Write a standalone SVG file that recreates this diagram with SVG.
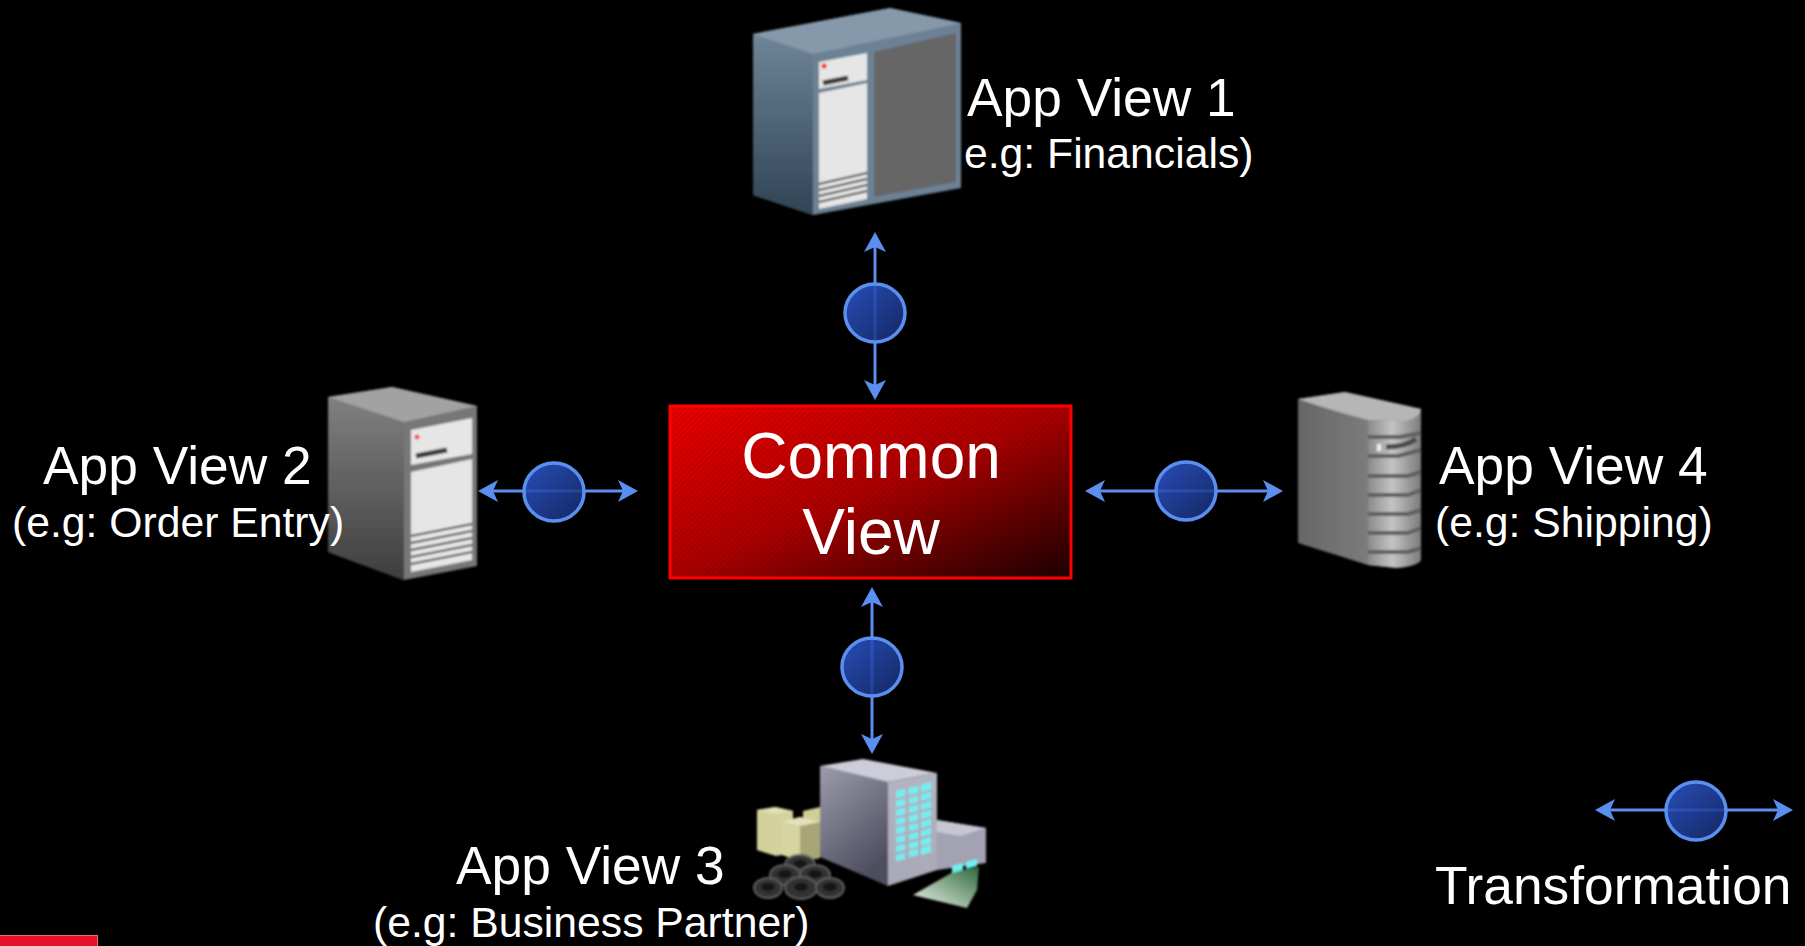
<svg xmlns="http://www.w3.org/2000/svg" width="1805" height="946" viewBox="0 0 1805 946">
<style>
text{font-family:"Liberation Sans",Arial,sans-serif;fill:#fff}
.big{font-size:53.3px}.sm{font-size:42.7px}.ctr{font-size:64px;text-anchor:middle}
.conn{stroke:#5a8ff0;stroke-width:3;fill:none;marker-start:url(#ah);marker-end:url(#ah)}
.hub{fill:url(#hubg);fill-opacity:.88;stroke:#5a8ff0;stroke-width:3.5}
.panel{fill:#e6e6e6}.vent{stroke:#444;stroke-width:2.2;fill:none}
.slot{stroke:#3a3a3a;stroke-width:5;fill:none}
.win{fill:#6ff0f2}
.tire{fill:#333;stroke:#5c5c5c;stroke-width:2}
.tireh{fill:#151515}
</style>
<defs>
<marker id="ah" markerUnits="userSpaceOnUse" markerWidth="24" markerHeight="26" refX="13" refY="13" orient="auto-start-reverse" viewBox="0 0 24 26">
<path d="M1,2 L21,13 L1,24 L6,13Z" fill="#5a8ff0"/>
</marker>
<linearGradient id="hubg" x1="0" y1="0" x2="1" y2="1"><stop offset="0" stop-color="#2c58d0"/><stop offset="1" stop-color="#182c70"/></linearGradient>
<linearGradient id="redg" x1="0" y1="0" x2="1" y2="1"><stop offset="0" stop-color="#ee0000"/><stop offset=".5" stop-color="#ac0000"/><stop offset="1" stop-color="#1c0000"/></linearGradient>
<pattern id="hatch" width="4" height="4" patternUnits="userSpaceOnUse" patternTransform="rotate(45)"><rect width="2" height="4" fill="#000" fill-opacity=".09"/></pattern>
<linearGradient id="s1side" x1="0" y1="0" x2="0" y2="1"><stop offset="0" stop-color="#6f8598"/><stop offset="1" stop-color="#2f4455"/></linearGradient>
<linearGradient id="s2side" x1="0" y1="0" x2="0" y2="1"><stop offset="0" stop-color="#808080"/><stop offset="1" stop-color="#3e3e3e"/></linearGradient>
<linearGradient id="s4side" x1="0" y1="0" x2="1" y2="0"><stop offset="0" stop-color="#666"/><stop offset="1" stop-color="#8c8c8c"/></linearGradient>
<linearGradient id="s4front" x1="0" y1="0" x2="1" y2="0"><stop offset="0" stop-color="#8a8a8a"/><stop offset=".45" stop-color="#c4c4c4"/><stop offset="1" stop-color="#7c7c7c"/></linearGradient>
<linearGradient id="bside" x1="0" y1="0" x2="0.5" y2="1"><stop offset="0" stop-color="#9c9cac"/><stop offset="1" stop-color="#4e4e60"/></linearGradient>
<linearGradient id="bfront" x1="0" y1="0" x2="0" y2="1"><stop offset="0" stop-color="#b4b4c2"/><stop offset="1" stop-color="#a8a8b6"/></linearGradient>
<linearGradient id="paper" x1="1" y1="0" x2="0" y2="1"><stop offset="0" stop-color="#2f6a3c"/><stop offset="1" stop-color="#eef4ea"/></linearGradient>
<filter id="soft" x="-5%" y="-5%" width="110%" height="110%"><feGaussianBlur stdDeviation=".8"/></filter>
</defs>
<rect width="1805" height="946" fill="#000"/>

<g id="connectors">
<line class="conn" x1="875" y1="240" x2="875" y2="392"/>
<line class="conn" x1="872" y1="595" x2="872" y2="746"/>
<line class="conn" x1="486" y1="491" x2="630" y2="491"/>
<line class="conn" x1="1093" y1="491" x2="1275" y2="491"/>
<line class="conn" x1="1603" y1="810" x2="1785" y2="810"/>
</g>

<g id="hub-top"><ellipse class="hub" cx="875" cy="313" rx="30" ry="29"/></g>
<g id="hub-bottom"><ellipse class="hub" cx="872" cy="667" rx="30" ry="29"/></g>
<g id="hub-left"><ellipse class="hub" cx="554" cy="492" rx="30" ry="29"/></g>
<g id="hub-right"><ellipse class="hub" cx="1186" cy="491" rx="30" ry="29"/></g>
<g id="hub-legend"><ellipse class="hub" cx="1696" cy="811" rx="30" ry="29"/></g>

<g id="common-view">
<rect x="670" y="406" width="401" height="172" fill="url(#redg)" stroke="#f00" stroke-width="3"/>
<rect x="672" y="408" width="397" height="168" fill="url(#hatch)"/>
<text class="ctr" x="871" y="478">Common</text>
<text class="ctr" x="871" y="554">View</text>
</g>

<g id="app-view-1">
<g filter="url(#soft)">
<path d="M753,34 L890,8 L961,23 L961,188 L813,215 L753,195Z" fill="#6c8294"/>
<path d="M753,34 L813,54 L813,215 L753,195Z" fill="url(#s1side)"/>
<path d="M753,34 L890,8 L961,23 L813,54Z" fill="#8599ab"/>
<path d="M819,62 L867,53 L867,80 L819,89Z" class="panel"/>
<path d="M819,93 L867,83 L867,199 L819,209Z" class="panel"/>
<path d="M874,52 L956,33 L956,182 L874,197Z" fill="#666"/>
<circle cx="824" cy="66" r="2.5" fill="#f01818"/>
<path d="M823,83 L848,78" class="slot"/>
<path d="M819,184 L867,173 M819,190 L867,179 M819,196 L867,185 M819,202 L867,191" class="vent"/>
</g>
<text class="big" x="967" y="116">App View 1</text>
<text class="sm" x="964" y="168">e.g: Financials)</text>
</g>

<g id="app-view-2">
<g filter="url(#soft)">
<path d="M328,397 L392,387 L477,406 L477,566 L404,580 L328,552Z" fill="#777"/>
<path d="M328,397 L404,422 L404,580 L328,552Z" fill="url(#s2side)"/>
<path d="M328,397 L392,387 L477,406 L404,422Z" fill="#a2a2a2"/>
<path d="M411,430 L472,418 L472,454 L411,465Z" class="panel"/>
<path d="M411,472 L472,459 L472,560 L411,572Z" class="panel"/>
<circle cx="417" cy="437" r="2.5" fill="#f05050"/>
<path d="M416,456 L447,450" class="slot"/>
<path d="M411,536 L472,524 M411,543 L472,531 M411,550 L472,538 M411,557 L472,545 M411,564 L472,552" class="vent"/>
</g>
<text class="big" x="43" y="484">App View 2</text>
<text class="sm" x="12" y="537">(e.g: Order Entry)</text>
</g>

<g id="app-view-3">
<g filter="url(#soft)">
<path d="M803,811 L820,807 L820,858 L803,858Z" fill="#cfcd98"/>
<path d="M757,810 L775,807 L793,811 L793,853 L776,856 L757,850Z" fill="#d4d29c"/>
<path d="M757,810 L775,807 L793,811 L776,814Z" fill="#e2e0b4"/>
<path d="M782,822 L800,817 L820,822 L820,858 L799,861 L782,855Z" fill="#d6d4a0"/>
<path d="M782,822 L800,817 L820,822 L800,826Z" fill="#e4e2b8"/>
<path d="M800,826 L820,822 L820,858 L800,861Z" fill="#a8a676"/>
<g>
<ellipse class="tire" cx="800" cy="865" rx="15" ry="10"/><ellipse class="tireh" cx="800" cy="864" rx="7" ry="4"/>
<ellipse class="tire" cx="785" cy="875" rx="15" ry="10"/><ellipse class="tireh" cx="785" cy="874" rx="7" ry="4"/>
<ellipse class="tire" cx="815" cy="875" rx="15" ry="10"/><ellipse class="tireh" cx="815" cy="874" rx="7" ry="4"/>
<ellipse class="tire" cx="768" cy="888" rx="14" ry="10"/><ellipse class="tireh" cx="768" cy="887" rx="7" ry="4"/>
<ellipse class="tire" cx="801" cy="888" rx="16" ry="11"/><ellipse class="tireh" cx="801" cy="887" rx="7" ry="4"/>
<ellipse class="tire" cx="830" cy="888" rx="14" ry="10"/><ellipse class="tireh" cx="830" cy="887" rx="7" ry="4"/>
</g>
<path d="M913,895 L953,872 L979,867 L977,890 L967,908Z" fill="url(#paper)"/>
<path d="M937,820 L986,828 L986,863 L937,870Z" fill="#a2a2b2"/>
<path d="M937,820 L986,828 L960,836 L937,832Z" fill="#c6c6d4"/>
<path d="M952,866 L963,863 L963,870 L952,873Z M966,862 L977,859 L977,866 L966,869Z" class="win"/>
<path d="M820,766 L888,782 L888,886 L820,857Z" fill="url(#bside)"/>
<path d="M820,766 L863,759 L937,773 L888,782Z" fill="#cdcdda"/>
<path d="M888,782 L937,773 L937,870 L888,886Z" fill="url(#bfront)"/>
<g class="win">
<path d="M896,791 L905,789 L905,796 L896,798Z M909,788 L918,786 L918,793 L909,795Z M921,785 L931,782 L931,789 L921,792Z"/>
<path d="M896,801 L905,799 L905,805 L896,807Z M909,798 L918,796 L918,802 L909,804Z M921,795 L931,792 L931,798 L921,801Z"/>
<path d="M896,810 L905,808 L905,814 L896,816Z M909,807 L918,805 L918,811 L909,813Z M921,804 L931,801 L931,807 L921,810Z"/>
<path d="M896,819 L905,817 L905,823 L896,825Z M909,816 L918,814 L918,820 L909,822Z M921,813 L931,810 L931,816 L921,819Z"/>
<path d="M896,828 L905,826 L905,832 L896,834Z M909,825 L918,823 L918,829 L909,831Z M921,822 L931,819 L931,825 L921,828Z"/>
<path d="M896,837 L905,835 L905,841 L896,843Z M909,834 L918,832 L918,838 L909,840Z M921,831 L931,828 L931,834 L921,837Z"/>
<path d="M896,846 L905,844 L905,850 L896,852Z M909,843 L918,841 L918,847 L909,849Z M921,840 L931,837 L931,843 L921,846Z"/>
<path d="M896,855 L905,853 L905,859 L896,861Z M909,851 L918,849 L918,855 L909,857Z M921,848 L931,845 L931,852 L921,855Z"/>
</g>
</g>
<text class="big" x="456" y="884">App View 3</text>
<text class="sm" x="373" y="937">(e.g: Business Partner)</text>
</g>

<g id="app-view-4">
<g filter="url(#soft)">
<path d="M1298,399 L1345,392 L1421,409 L1421,560 L1397,568 L1368,565 L1298,543Z" fill="url(#s4side)"/>
<path d="M1298,399 L1345,392 L1421,409 Q1420,418 1405,421 L1368,420 Q1330,410 1298,399Z" fill="#b6b6b6"/>
<path d="M1368,420 L1405,421 Q1420,418 1421,409 L1421,560 Q1418,566 1397,568 L1368,565Z" fill="url(#s4front)"/>
<g fill="none" stroke="#5e5e5e" stroke-width="4">
<path d="M1368,437 L1400,437 L1421,433"/>
<path d="M1368,456 L1398,456 L1421,450"/>
<path d="M1368,476 L1408,476 L1421,472"/>
<path d="M1368,495 L1408,495 L1421,490"/>
<path d="M1368,514 L1408,514 L1421,510"/>
<path d="M1368,533 L1408,533 L1421,528"/>
<path d="M1368,552 L1408,552 L1421,548"/>
</g>
<path d="M1386,447 Q1405,447 1416,439" fill="none" stroke="#4a4a4a" stroke-width="5"/>
<rect x="1377" y="444" width="4" height="7" fill="#eee"/>
</g>
<text class="big" x="1439" y="484">App View 4</text>
<text class="sm" x="1435" y="537">(e.g: Shipping)</text>
</g>

<g id="legend-label"><text class="big" x="1435" y="904">Transformation</text></g>

<g id="corner-bar">
<rect x="0" y="935" width="98" height="11" fill="#e4122a"/>
<rect x="0" y="935" width="98" height="1" fill="#f06a78"/>
<rect x="97" y="935" width="1" height="11" fill="#f06a78"/>
</g>
</svg>
